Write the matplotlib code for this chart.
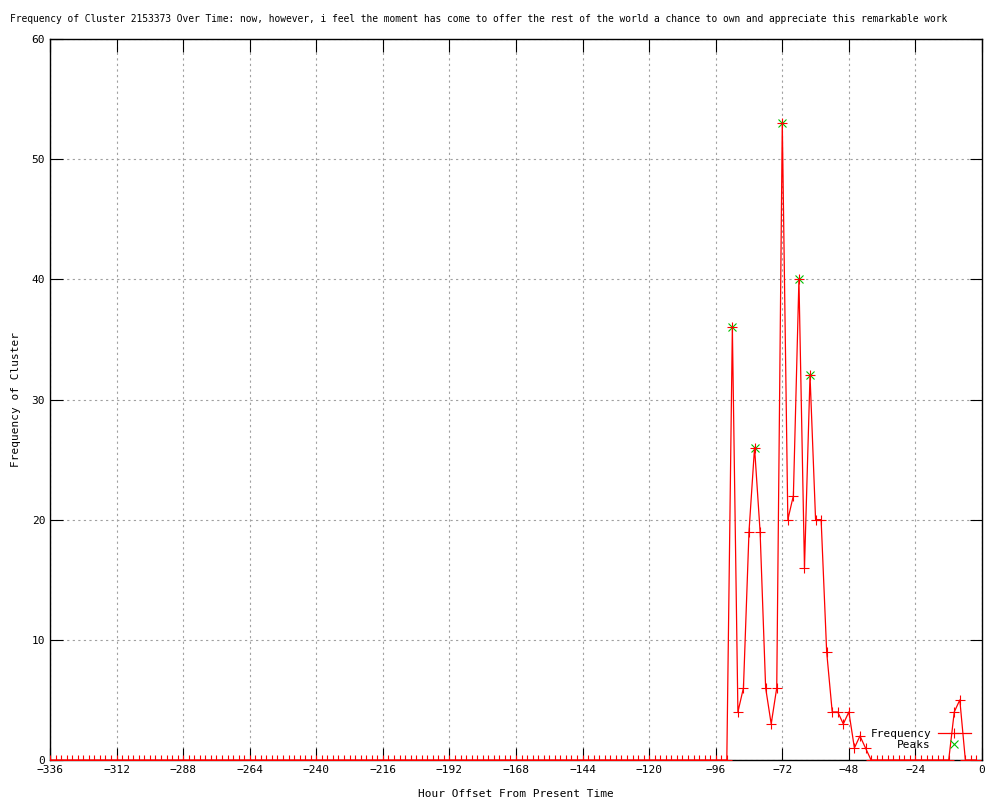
import matplotlib
matplotlib.use("Agg")
import matplotlib.pyplot as plt
from matplotlib.ticker import MultipleLocator

# hour offsets, every 2 hours from -336 to -2
hours = list(range(-336, 0, 2))

freq = [
    0, 0, 0, 0, 0, 0, 0, 0, 0, 0, 0, 0, 0, 0, 0, 0, 0, 0, 0, 0, 0, 0, 0, 0,   # -336..-290
    0, 0, 0, 0, 0, 0, 0, 0, 0, 0, 0, 0, 0, 0, 0, 0, 0, 0, 0, 0, 0, 0, 0, 0,   # -288..-242
    0, 0, 0, 0, 0, 0, 0, 0, 0, 0, 0, 0, 0, 0, 0, 0, 0, 0, 0, 0, 0, 0, 0, 0,   # -240..-194
    0, 0, 0, 0, 0, 0, 0, 0, 0, 0, 0, 0, 0, 0, 0, 0, 0, 0, 0, 0, 0, 0, 0, 0,   # -192..-146
    0, 0, 0, 0, 0, 0, 0, 0, 0, 0, 0, 0, 0, 0, 0, 0, 0, 0, 0, 0, 0, 0, 0, 0,   # -144..-98
    0, 0, 0,                                                                  # -96..-92
    36, 4, 6, 19, 26, 19, 6, 3, 6, 53, 20, 22, 40, 16, 32, 20, 20, 9, 4, 4,   # -90..-52
    3, 4, 1, 2, 1,                                                            # -50..-42
    0, 0, 0, 0, 0, 0, 0, 0, 0, 0, 0, 0, 0, 0,                                 # -40..-14
    0, 4, 5, 0, 0, 0,                                                         # -12..-2
]

peak_hours = [-90, -82, -72, -66, -62]
peak_vals = [36, 26, 53, 40, 32]

title = ("Frequency of Cluster 2153373 Over Time: now, however, i feel the moment "
         "has come to offer the rest of the world a chance to own and appreciate "
         "this remarkable work")

plt.rcParams['font.family'] = ['DejaVu Sans Mono']
plt.rcParams['font.size'] = 8

fig = plt.figure(figsize=(10, 8), dpi=100)
ax = fig.add_axes([0.050, 0.050, 0.932, 0.9012])

ax.plot(peak_hours, peak_vals, linestyle='none', marker='x', color='#00c000',
        markersize=6, markeredgewidth=0.8, label='Peaks', zorder=3)
ax.plot(hours, freq, color='#ff0000', linewidth=0.9, marker='+', markersize=7,
        markeredgewidth=0.8, label='Frequency', zorder=4)

ax.set_xlim(-336, 0)
ax.set_ylim(0, 60)
ax.xaxis.set_major_locator(MultipleLocator(24))
ax.yaxis.set_major_locator(MultipleLocator(10))
ax.tick_params(direction='in', length=9, width=0.8, top=True, right=True,
               labelsize=8, colors='black')
ax.grid(True, color='#a0a0a0', linestyle=(0, (2, 3)), linewidth=0.8)
ax.set_axisbelow(True)
for s in ax.spines.values():
    s.set_linewidth(1.0)

ax.set_xlabel('Hour Offset From Present Time', fontsize=8, labelpad=10)
ax.set_ylabel('Frequency of Cluster', fontsize=8, labelpad=8)

# title is long; slightly smaller so the whole line fits on the canvas
fig.text(0.010, 0.976, title, ha='left', va='center', fontsize=6.9)

handles, labels = ax.get_legend_handles_labels()
ax.legend(handles[::-1], labels[::-1], loc='lower right', frameon=False,
          markerfirst=False, fontsize=8, handlelength=3, handletextpad=0.6,
          labelspacing=0.1, bbox_to_anchor=(0.999, 0.0))

fig.savefig('out.png', dpi=100)
